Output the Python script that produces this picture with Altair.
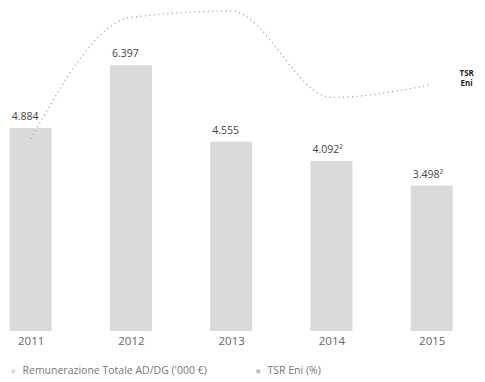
import altair as alt
import pandas as pd

years = [2011, 2012, 2013, 2014, 2015]
remuneration = [4884, 6397, 4555, 4092, 3498]
notes = ["", "", "", "²", "²"]
tsr = [60, 98, 100, 73, 77]
series_names = ["Remunerazione Totale AD/DG ('000 €)", "TSR Eni (%)"]
line_end_label = ["TSR", "Eni"]

labels = [f"{v:,}".replace(",", ".") + n for v, n in zip(remuneration, notes)]
df = pd.DataFrame({
    "year": years,
    "value": remuneration,
    "label": labels,
    "tsr": tsr,
    "series": series_names[0],
})
df_end = pd.DataFrame({"year": [years[-1]], "tsr": [tsr[-1]], "txt": [line_end_label]})

FONT = "Open Sans"
xscale = alt.Scale(domain=[2010.824, 2015.312], nice=False, zero=False)
yscale = alt.Scale(domain=[0, 7700], nice=False)
tscale = alt.Scale(domain=[0, 100], nice=False)

x_axis = alt.Axis(values=years, format="d", title=None, domain=False, ticks=False,
                  grid=False, labelPadding=4, labelFontSize=11.5, labelColor="#666",
                  labelFont=FONT)

bars = alt.Chart(df).mark_bar(width=42).encode(
    x=alt.X("year:Q", scale=xscale, axis=x_axis),
    y=alt.Y("value:Q", scale=yscale, axis=None),
    color=alt.Color("series:N",
                    scale=alt.Scale(domain=series_names, range=["#dadada", "#bdbdbd"]),
                    legend=alt.Legend(title=None, orient="none", direction="horizontal",
                                      legendX=0, legendY=355, symbolType="square",
                                      symbolSize=14, labelFontSize=10.5,
                                      labelColor="#777", labelFont=FONT, labelLimit=0,
                                      columnPadding=46, symbolStrokeWidth=0)),
)

bar_labels = alt.Chart(df).mark_text(align="left", baseline="bottom", dx=-19, dy=-6,
                                     fontSize=10.5, color="#444", font=FONT).encode(
    x=alt.X("year:Q", scale=xscale),
    y=alt.Y("value:Q", scale=yscale, axis=None),
    text="label:N",
)

line = alt.Chart(df).mark_line(interpolate="monotone", color="#999", strokeWidth=1.3,
                               strokeDash=[1, 3.5]).encode(
    x=alt.X("year:Q", scale=xscale),
    y=alt.Y("tsr:Q", scale=tscale, axis=None),
)

end_label = alt.Chart(df_end).mark_text(align="center", baseline="middle", dx=35, dy=-11,
                                        fontSize=8, fontWeight="bold", color="#222",
                                        font=FONT, lineHeight=10).encode(
    x=alt.X("year:Q", scale=xscale),
    y=alt.Y("tsr:Q", scale=tscale, axis=None),
    text="txt",
)

chart = alt.layer(bars, bar_labels, line, end_label).resolve_scale(
    y="independent"
).properties(
    width=460, height=320, padding={"left": 0, "top": 0, "right": 0, "bottom": 0}
).configure_view(stroke=None)

chart.save("out.html", embed_options={"renderer": "svg", "actions": False})
